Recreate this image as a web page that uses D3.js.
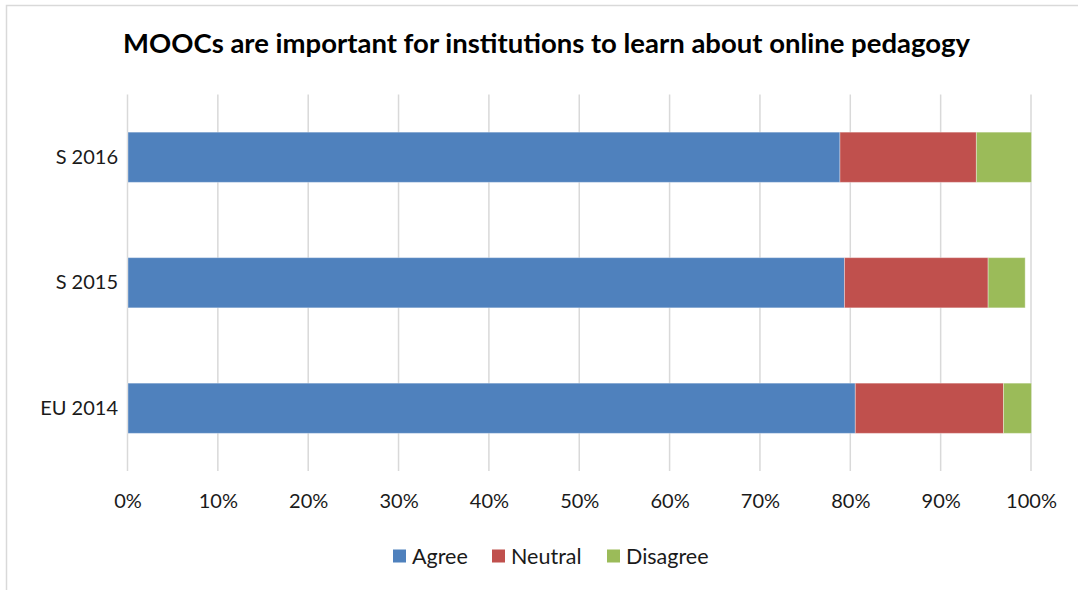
<!DOCTYPE html>
<html>
<head>
<meta charset="utf-8">
<script src="https://cdn.jsdelivr.net/npm/d3@7"></script>
<style>
  body { margin: 0; background: #fff; }
  svg { display: block; font-family: Lato, "Open Sans", sans-serif; }
</style>
</head>
<body>
<svg id="chart" width="1078" height="590"></svg>
<script>
const categories = ["S 2016", "S 2015", "EU 2014"];
const seriesNames = ["Agree", "Neutral", "Disagree"];
const agree = [78.8, 79.3, 80.5];
const neutral = [15.1, 15.9, 16.4];
const disagree = [6.1, 4.1, 3.1];
const tickValues = [0, 10, 20, 30, 40, 50, 60, 70, 80, 90, 100];
const colors = ["#4F81BD", "#C0504D", "#9BBB59"];
const titleText = "MOOCs are important for institutions to learn about online pedagogy";

const rows = categories.map((c, i) => ({ cat: c, Agree: agree[i], Neutral: neutral[i], Disagree: disagree[i] }));
const stacked = d3.stack().keys(seriesNames)(rows);

const svg = d3.select("#chart");

// outer border
svg.append("rect").attr("x", 6.5).attr("y", 5.5).attr("width", 1200).attr("height", 1200)
  .attr("fill", "none").attr("stroke", "#d9d9d9").attr("stroke-width", 1.5);

const x = d3.scaleLinear().domain([0, 100]).range([127.5, 1031]);
const y = d3.scaleBand().domain(categories).range([94.5, 471]).paddingInner(0.6).paddingOuter(0.3);

// gridlines
svg.append("g").selectAll("line").data(tickValues).join("line")
  .attr("x1", d => x(d)).attr("x2", d => x(d))
  .attr("y1", 94.5).attr("y2", 471)
  .attr("stroke", "#d9d9d9").attr("stroke-width", 1.5);

// bars
const color = d3.scaleOrdinal().domain(seriesNames).range(colors);
svg.append("g").selectAll("g").data(stacked).join("g")
  .attr("fill", d => color(d.key))
  .selectAll("rect").data(d => d).join("rect")
  .attr("x", d => x(d[0]) + 0.5)
  .attr("width", d => x(d[1]) - x(d[0]))
  .attr("y", d => y(d.data.cat))
  .attr("height", y.bandwidth())
  .attr("stroke", "#ffffff").attr("stroke-opacity", 0.35).attr("stroke-width", 1);

// x axis labels
const xAxis = d3.axisBottom(x).tickValues(tickValues).tickFormat(d => d + "%").tickSize(0).tickPadding(0);
const gx = svg.append("g").attr("transform", "translate(0,491)").call(xAxis);
gx.select(".domain").remove();
gx.selectAll("text").attr("font-size", 20).attr("fill", "#1a1a1a")
  .attr("font-family", "Lato, 'Open Sans', sans-serif").attr("dy", "0.85em");

// y axis labels
const yAxis = d3.axisLeft(y).tickSize(0).tickPadding(0);
const gy = svg.append("g").attr("transform", "translate(118,0)").call(yAxis);
gy.select(".domain").remove();
gy.selectAll("text").attr("font-size", 20).attr("fill", "#1a1a1a")
  .attr("font-family", "Lato, 'Open Sans', sans-serif");

// title
const title = svg.append("text").attr("x", 546.5).attr("y", 53)
  .attr("text-anchor", "middle").attr("font-weight", "bold").attr("font-size", 26)
  .attr("fill", "#000").text(titleText);
const tw = title.node().getComputedTextLength();
title.attr("font-size", 26 * 847 / tw);

// legend
const legendX = [393, 492, 607];
const leg = svg.append("g").selectAll("g").data(seriesNames).join("g")
  .attr("transform", (d, i) => `translate(${legendX[i]},556)`);
leg.append("rect").attr("x", 0).attr("y", -6.5).attr("width", 13).attr("height", 13)
  .attr("fill", d => color(d));
leg.append("text").attr("x", 19).attr("y", 0).attr("dy", "0.35em")
  .attr("font-size", 21.5).attr("fill", "#1a1a1a").text(d => d);
</script>
</body>
</html>
